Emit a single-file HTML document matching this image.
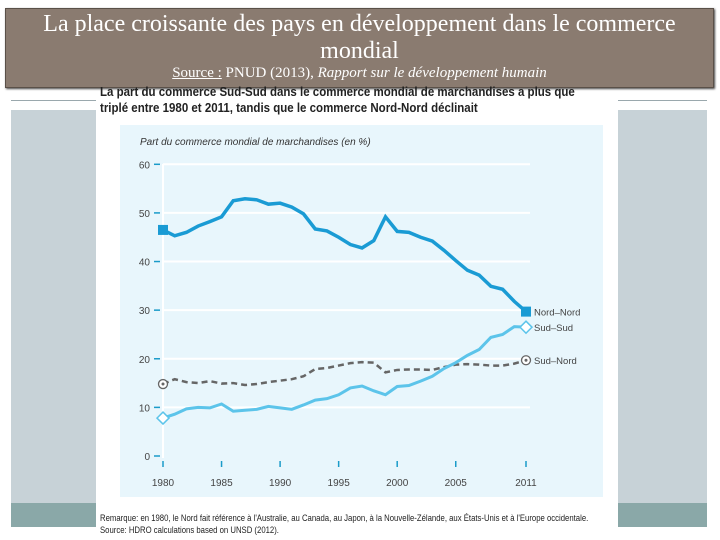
<!DOCTYPE html>
<html><head><meta charset="utf-8"><style>
body{margin:0;width:720px;height:540px;overflow:hidden;background:#fff;position:relative;font-family:"Liberation Sans",sans-serif}
div{position:absolute}
</style></head><body>
<div style="left:11px;top:100px;width:696px;height:10px;background:#fff;border-top:1px solid #9aa8ad"></div>
<div style="left:11px;top:110px;width:696px;height:417px;background:#c7d2d7"></div>
<div style="left:11px;top:503px;width:696px;height:24px;background:#8aa8a8"></div>
<div style="left:96px;top:80px;width:522px;height:460px;background:#fff"></div>
<div style="left:5px;top:8px;width:707px;height:78px;background:#8a7b70;border:1px solid #5a5048;box-shadow:1px 1px 2px #444"></div>
<div style="left:30px;top:11px;width:659px;text-align:center;color:#fff;font-family:'Liberation Serif',serif;font-size:24px;line-height:27px">La place croissante des pays en développement dans le commerce mondial</div>
<div style="left:5px;top:65px;width:709px;text-align:center;color:#fff;font-family:'Liberation Serif',serif;font-size:15px"><u>Source :</u> PNUD (2013), <i>Rapport sur le développement humain</i></div>
<div style="left:100px;top:84px;width:560px;font-weight:bold;font-size:12.5px;line-height:16px;color:#222;transform:scaleX(0.92);transform-origin:left">La part du commerce Sud-Sud dans le commerce mondial de marchandises a plus que<br>triplé entre 1980 et 2011, tandis que le commerce Nord-Nord déclinait</div>
<div style="left:120px;top:125px;width:483px;height:372px;background:#e8f6fc"></div>
<div style="left:100px;top:512px;font-size:9px;color:#222;white-space:nowrap;line-height:12px;transform:scaleX(0.86);transform-origin:left">Remarque: en 1980, le Nord fait référence à l'Australie, au Canada, au Japon, à la Nouvelle-Zélande, aux États-Unis et à l'Europe occidentale.<br>Source: HDRO calculations based on UNSD (2012).</div>
<svg width="720" height="540" style="position:absolute;left:0;top:0" id="chart"></svg>
<script>
const years=[1980,1981,1982,1983,1984,1985,1986,1987,1988,1989,1990,1991,1992,1993,1994,1995,1996,1997,1998,1999,2000,2001,2002,2003,2004,2005,2006,2007,2008,2009,2010,2011];
const nordNord=[46.5,45.3,46,47.3,48.2,49.2,52.5,52.9,52.7,51.8,52,51.2,49.8,46.7,46.3,45,43.5,42.8,44.3,49.2,46.2,46,45,44.2,42.3,40.2,38.2,37.2,34.9,34.3,31.8,29.7];
const sudSud=[7.8,8.6,9.7,10,9.9,10.7,9.2,9.4,9.6,10.2,9.9,9.6,10.5,11.5,11.8,12.6,14,14.4,13.4,12.6,14.3,14.5,15.4,16.4,18.0,19.2,20.7,21.9,24.4,25.0,26.6,26.5];
const sudNord=[14.8,15.8,15.2,15.0,15.4,14.9,15.0,14.6,14.8,15.2,15.5,15.8,16.4,17.9,18.1,18.6,19.1,19.3,19.2,17.2,17.7,17.8,17.8,17.7,18.3,18.8,18.9,18.8,18.6,18.6,19.0,19.7];
const yTicks=[0,10,20,30,40,50,60];
const xTicks=[1980,1985,1990,1995,2000,2005,2011];
const NS='http://www.w3.org/2000/svg';
const svg=document.getElementById('chart');
const X=y=>163+(y-1980)*(526-163)/31;
const Y=v=>456-v*(456-164.3)/60;
function mk(t,a,p){const e=document.createElementNS(NS,t);for(const k in a)e.setAttribute(k,a[k]);(p||svg).appendChild(e);return e;}
let t=mk('text',{x:140,y:145,'font-size':10,'font-style':'italic',fill:'#333','font-family':'Liberation Sans Narrow, Liberation Sans, sans-serif'});


t.textContent='Part du commerce mondial de marchandises (en %)';
yTicks.forEach(v=>{
 if(v>0){const g=mk('line',{x1:163,x2:530,y1:Y(v),y2:Y(v),stroke:'#fff','stroke-width':2});
 
 }
 const tk=mk('line',{x1:154,x2:160,y1:Y(v),y2:Y(v),stroke:'#1a9bc9','stroke-width':1.5});
 
 
 const l=mk('text',{x:150,y:Y(v)+4,'font-size':10,fill:'#444','text-anchor':'end'});
 
 
 l.textContent=v;
});
mk('line',{x1:163,x2:163,y1:164,y2:458,stroke:'#fff','stroke-width':2});
xTicks.forEach(v=>{
 const tk=mk('line',{x1:X(v),x2:X(v),y1:461,y2:467,stroke:'#1a9bc9','stroke-width':1.5});
 
 
 const l=mk('text',{x:X(v),y:486,'font-size':10,fill:'#444','text-anchor':'middle'});
 
 
 l.textContent=v;
});
const pts=a=>a.map((v,i)=>X(years[i])+','+Y(v)).join(' ');
let p=mk('polyline',{points:pts(sudNord),fill:'none',stroke:'#666','stroke-width':2.5,'stroke-dasharray':'6,4'});


p=mk('polyline',{points:pts(sudSud),fill:'none',stroke:'#5cc4ea','stroke-width':3});


p=mk('polyline',{points:pts(nordNord),fill:'none',stroke:'#1a9bd4','stroke-width':3.5});


const n=years.length-1;
[[0],[n]].forEach(([i])=>{
 let m=mk('rect',{x:X(years[i])-5,y:Y(nordNord[i])-5,width:10,height:10,fill:'#1a9bd4'});
 
 
 const cx=X(years[i]),cy=Y(sudSud[i]);
 m=mk('polygon',{points:`${cx},${cy-6} ${cx+6},${cy} ${cx},${cy+6} ${cx-6},${cy}`,fill:'#fff',stroke:'#5cc4ea','stroke-width':1.5});
 
 
 m=mk('circle',{cx:X(years[i]),cy:Y(sudNord[i]),r:4.5,fill:'#fff',stroke:'#666','stroke-width':1.3});
 
 
 mk('circle',{cx:X(years[i]),cy:Y(sudNord[i]),r:1.5,fill:'#666'});
});
[['Nord–Nord',nordNord],['Sud–Sud',sudSud],['Sud–Nord',sudNord]].forEach(([s,a])=>{
 const l=mk('text',{x:534,y:Y(a[n])+4,'font-size':9.5,fill:'#444'});
 
 
 l.textContent=s;
});
</script>
</body></html>
